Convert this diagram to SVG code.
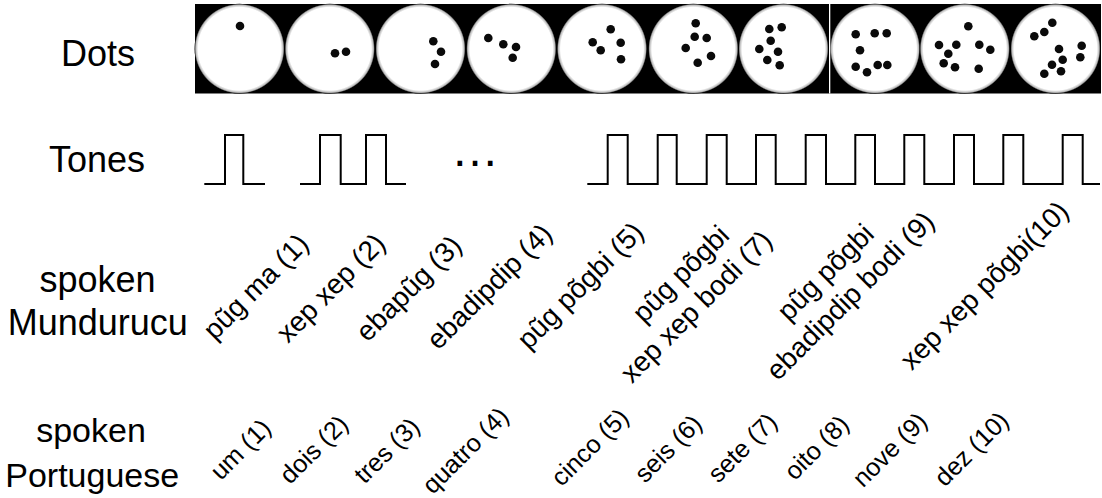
<svg xmlns="http://www.w3.org/2000/svg" width="1102" height="498" viewBox="0 0 1102 498">
<style>
text{font-family:"Liberation Sans",Arial,sans-serif;fill:#000}
.row{font-size:36px;text-anchor:middle}
.rowp{font-size:34px;text-anchor:middle}
.mu{font-size:28px;text-anchor:middle}
.pt{font-size:25.3px;text-anchor:middle}
.disc{fill:url(#soft)}
.dot{fill:#0a0a0a}
.wave{fill:none;stroke:#000;stroke-width:2;stroke-linejoin:miter}
</style>
<defs>
<radialGradient id="soft" cx="0.5" cy="0.5" r="0.5">
<stop offset="0.92" stop-color="#fff"/>
<stop offset="0.97" stop-color="#bbb"/>
<stop offset="1" stop-color="#000"/>
</radialGradient>
</defs>
<rect width="1102" height="498" fill="#fff"/>
<g id="row-labels">
<text class="row" x="98" y="65.5">Dots</text>
<text class="row" x="97" y="172.3">Tones</text>
<text class="row" x="97.5" y="291.5">spoken</text>
<text class="row" x="97.7" y="335">Mundurucu</text>
<text class="rowp" x="91" y="441.7">spoken</text>
<text class="rowp" x="92.2" y="486.7">Portuguese</text>
</g>
<g id="dots">
<rect x="195" y="4" width="906" height="89.5" fill="#000"/>
<circle class="disc" cx="239.5" cy="48.75" r="45"/>
<circle class="disc" cx="329.8" cy="48.75" r="45"/>
<circle class="disc" cx="420.5" cy="48.75" r="45"/>
<circle class="disc" cx="511.3" cy="48.75" r="45"/>
<circle class="disc" cx="602" cy="48.75" r="45"/>
<circle class="disc" cx="693.3" cy="48.75" r="45"/>
<circle class="disc" cx="783.5" cy="48.75" r="45"/>
<circle class="disc" cx="875" cy="48.75" r="45"/>
<circle class="disc" cx="964.8" cy="48.75" r="45"/>
<circle class="disc" cx="1055.5" cy="48.75" r="45"/>
<rect x="829" y="4" width="1.3" height="89.5" fill="#fff"/>
<g id="dots-1"><circle class="dot" cx="240" cy="26" r="4.3"/></g>
<g id="dots-2"><circle class="dot" cx="335" cy="53.3" r="4.3"/><circle class="dot" cx="346" cy="51.7" r="4.3"/></g>
<g id="dots-3"><circle class="dot" cx="433.3" cy="41.3" r="4.3"/><circle class="dot" cx="441" cy="51.7" r="4.3"/><circle class="dot" cx="435" cy="64" r="4.3"/></g>
<g id="dots-4"><circle class="dot" cx="488.3" cy="38" r="4.3"/><circle class="dot" cx="503.3" cy="44.3" r="4.3"/><circle class="dot" cx="516" cy="47" r="4.3"/><circle class="dot" cx="512.7" cy="57.7" r="4.3"/></g>
<g id="dots-5"><circle class="dot" cx="610.7" cy="29.3" r="4.3"/><circle class="dot" cx="592.7" cy="42.3" r="4.3"/><circle class="dot" cx="620.7" cy="42.7" r="4.3"/><circle class="dot" cx="600.7" cy="50.3" r="4.3"/><circle class="dot" cx="621" cy="59.3" r="4.3"/></g>
<g id="dots-6"><circle class="dot" cx="695.7" cy="23.3" r="4.3"/><circle class="dot" cx="694.7" cy="36.7" r="4.3"/><circle class="dot" cx="706.7" cy="38" r="4.3"/><circle class="dot" cx="685.7" cy="48" r="4.3"/><circle class="dot" cx="711" cy="56" r="4.3"/><circle class="dot" cx="697.7" cy="62.7" r="4.3"/></g>
<g id="dots-7"><circle class="dot" cx="769.3" cy="29" r="4.3"/><circle class="dot" cx="781.7" cy="27.3" r="4.3"/><circle class="dot" cx="770.7" cy="40.7" r="4.3"/><circle class="dot" cx="759.3" cy="49" r="4.3"/><circle class="dot" cx="778" cy="51.7" r="4.3"/><circle class="dot" cx="767.3" cy="60" r="4.3"/><circle class="dot" cx="779.7" cy="65.3" r="4.3"/></g>
<g id="dots-8"><circle class="dot" cx="855.7" cy="34.3" r="4.3"/><circle class="dot" cx="874.7" cy="33.3" r="4.3"/><circle class="dot" cx="886.7" cy="33.3" r="4.3"/><circle class="dot" cx="860" cy="50.3" r="4.3"/><circle class="dot" cx="855.7" cy="66.7" r="4.3"/><circle class="dot" cx="867" cy="72.3" r="4.3"/><circle class="dot" cx="877.7" cy="65" r="4.3"/><circle class="dot" cx="887.3" cy="65" r="4.3"/></g>
<g id="dots-9"><circle class="dot" cx="968.3" cy="26.3" r="4.3"/><circle class="dot" cx="939" cy="45" r="4.3"/><circle class="dot" cx="956.3" cy="44.7" r="4.3"/><circle class="dot" cx="979.3" cy="44.7" r="4.3"/><circle class="dot" cx="990.3" cy="49.7" r="4.3"/><circle class="dot" cx="948.3" cy="53.7" r="4.3"/><circle class="dot" cx="943.7" cy="63.3" r="4.3"/><circle class="dot" cx="955" cy="67.3" r="4.3"/><circle class="dot" cx="978.7" cy="68.7" r="4.3"/></g>
<g id="dots-10"><circle class="dot" cx="1052.3" cy="22.7" r="4.3"/><circle class="dot" cx="1044.3" cy="32" r="4.3"/><circle class="dot" cx="1034.3" cy="36.3" r="4.3"/><circle class="dot" cx="1081.7" cy="45.7" r="4.3"/><circle class="dot" cx="1059" cy="49" r="4.3"/><circle class="dot" cx="1080.3" cy="57.3" r="4.3"/><circle class="dot" cx="1062.7" cy="59.7" r="4.3"/><circle class="dot" cx="1052" cy="64.7" r="4.3"/><circle class="dot" cx="1044.3" cy="73.7" r="4.3"/><circle class="dot" cx="1061" cy="71.3" r="4.3"/></g>
</g>
<g id="tones">
<path class="wave" d="M204.3 184H225V135H243.3V184H265"/>
<path class="wave" d="M300 184H320V135H340.7V184H366V135H386V184H406"/>
<text x="475" y="165.8" style="font-size:48px;text-anchor:middle">…</text>
<path class="wave" d="M587.3 184H607.7V135H627.7V184H657.7V135H676.7V184H706.7V135H726.7V184H756V135H775.7V184H805.7V135H826V184H855.3V135H875V184H904.3V135H924.3V184H954V135H974V184H1003.3V135H1023.3V184H1062.7V135H1082.7V184H1100"/>
</g>
<g id="mundurucu">
<text class="mu" transform="translate(262.5 293.3) rotate(-45)">pũg ma (1)</text>
<text class="mu" transform="translate(337.5 294.6) rotate(-45)">xep xep (2)</text>
<text class="mu" transform="translate(415.5 295.1) rotate(-45)">ebapũg (3)</text>
<text class="mu" transform="translate(496 293.3) rotate(-45)">ebadipdip (4)</text>
<text class="mu" transform="translate(587 292.3) rotate(-45)">pũg põgbi (5)</text>
<text class="mu" transform="translate(697.3 294.8) rotate(-45)"><tspan x="3" y="-17">pũg põgbi</tspan><tspan x="-9" y="17">xep xep bodi (7)</tspan></text>
<text class="mu" transform="translate(843.5 291.8) rotate(-45)"><tspan x="1" y="-17">pũg põgbi</tspan><tspan x="2" y="17">ebadipdip bodi (9)</tspan></text>
<text class="mu" transform="translate(991 292.1) rotate(-45)">xep xep põgbi(10)</text>
</g>
<g id="portuguese">
<text class="pt" transform="translate(246.5 455.5) rotate(-45)">um (1)</text>
<text class="pt" transform="translate(319.9 455.5) rotate(-45)">dois (2)</text>
<text class="pt" transform="translate(392.9 456.5) rotate(-45)">tres (3)</text>
<text class="pt" transform="translate(471.5 456.5) rotate(-45)">quatro (4)</text>
<text class="pt" transform="translate(595.8 453.3) rotate(-45)">cinco (5)</text>
<text class="pt" transform="translate(674.2 454.6) rotate(-45)">seis (6)</text>
<text class="pt" transform="translate(748.5 453.8) rotate(-45)">sete (7)</text>
<text class="pt" transform="translate(822.5 453.6) rotate(-45)">oito (8)</text>
<text class="pt" transform="translate(895.8 455.8) rotate(-45)">nove (9)</text>
<text class="pt" transform="translate(977.5 455) rotate(-45)">dez (10)</text>
</g>
</svg>
